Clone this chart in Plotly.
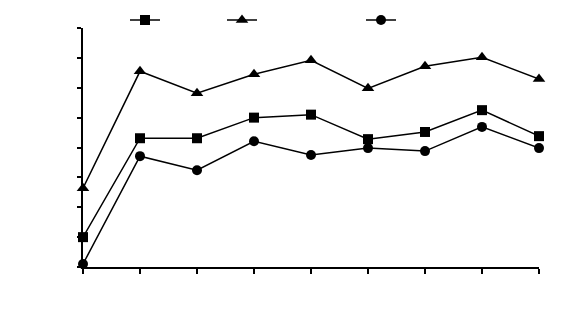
import plotly.graph_objects as go

x_pos = [0, 1, 2, 3, 4, 5, 6, 7, 8]
squares = [1.0, 4.31, 4.31, 5.0, 5.1, 4.28, 4.52, 5.25, 4.38]
triangles = [2.64, 6.55, 5.82, 6.45, 6.92, 5.98, 6.72, 7.02, 6.29]
circles = [0.1, 3.71, 3.24, 4.21, 3.75, 3.98, 3.88, 4.69, 3.98]

W, H = 567, 331
L, R, T, B = 83, 28, 28, 64
pw = W - L - R
ph = H - T - B

fig = go.Figure()
line = dict(color="black", width=1.5)
fig.add_trace(go.Scatter(x=x_pos, y=squares, mode="lines+markers", name=" ",
                         line=line, marker=dict(symbol="square", size=10, color="black"),
                         cliponaxis=False, legend="legend"))
fig.add_trace(go.Scatter(x=x_pos, y=triangles, mode="lines+markers", name=" ",
                         line=line, marker=dict(symbol="triangle-up", size=11, color="black"),
                         cliponaxis=False, legend="legend2"))
fig.add_trace(go.Scatter(x=x_pos, y=circles, mode="lines+markers", name=" ",
                         line=line, marker=dict(symbol="circle", size=10, color="black"),
                         cliponaxis=False, legend="legend3"))

def leg(cx):
    return dict(x=(cx - 20 - L) / pw, xanchor="left", y=1 + 8 / ph, yanchor="middle",
                bgcolor="rgba(0,0,0,0)", borderwidth=0, font=dict(size=10),
                itemwidth=30)

fig.update_layout(
    width=W, height=H,
    margin=dict(l=L, r=R, t=T, b=B, autoexpand=False),
    plot_bgcolor="white", paper_bgcolor="white",
    showlegend=True,
    legend=leg(145), legend2=leg(242), legend3=leg(381),
    xaxis=dict(range=[0, 8], showgrid=False, zeroline=False, showline=True,
               linecolor="black", linewidth=1.5, ticks="outside", ticklen=5,
               tickcolor="black", tickwidth=1.5, dtick=1, tick0=0,
               showticklabels=False),
    yaxis=dict(range=[0, 8], showgrid=False, zeroline=False, showline=True,
               linecolor="black", linewidth=1.5, ticks="outside", ticklen=4,
               tickcolor="black", tickwidth=1.5, dtick=1, tick0=0,
               showticklabels=False),
)

fig.write_html("out.html")
